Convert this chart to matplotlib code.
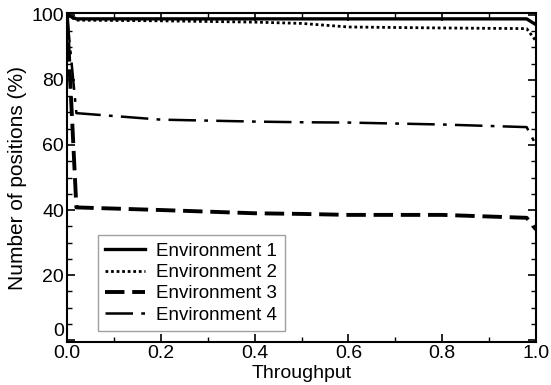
import matplotlib.pyplot as plt
from matplotlib.ticker import MultipleLocator

plt.rcParams['font.family'] = ['Liberation Sans', 'DejaVu Sans']

# throughput samples and percentage of positions per environment
throughput = [0.0, 0.02, 0.2, 0.4, 0.5, 0.6, 0.8, 0.98, 1.0]
env1 = [100.0, 98.8, 98.8, 98.8, 98.8, 98.8, 98.8, 98.8, 97.0]
env2 = [100.0, 98.4, 98.2, 97.8, 97.4, 96.3, 96.0, 95.8, 92.0]
env3 = [100.0, 40.8, 40.0, 39.0, 38.8, 38.5, 38.5, 37.6, 34.0]
env4 = [100.0, 69.8, 67.8, 67.2, 67.0, 66.9, 66.3, 65.5, 60.0]

fig = plt.figure(figsize=(5.51, 3.85), dpi=100)
ax = fig.add_axes([0.1216, 0.1117, 0.8512, 0.8545])

ax.plot(throughput, env1, color='black', lw=2.4, ls='-', label='Environment 1')
ax.plot(throughput, env2, color='black', lw=2.0, ls=(0, (1, 1)), label='Environment 2')
ax.plot(throughput, env3, color='black', lw=2.8, ls=(0, (5, 2)), label='Environment 3')
ax.plot(throughput, env4, color='black', lw=1.8, ls=(0, (11, 3.3, 1.5, 3.3)), label='Environment 4')

ax.set_xlim(0, 1)
ax.set_ylim(-0.6, 100.6)
ax.xaxis.set_major_locator(MultipleLocator(0.2))
ax.xaxis.set_minor_locator(MultipleLocator(0.1))
ax.yaxis.set_major_locator(MultipleLocator(20))
ax.yaxis.set_minor_locator(MultipleLocator(5))
ax.tick_params(which='both', direction='in', top=True, right=True, labelsize=14, pad=2)
ax.tick_params(which='major', length=6, width=1.2)
ax.tick_params(which='minor', length=3.5, width=1.0)
for s in ax.spines.values():
    s.set_linewidth(1.5)

ax.set_xlabel('Throughput', fontsize=14, labelpad=2)
ax.set_ylabel('Number of positions (%)', fontsize=15, labelpad=3)

# lift the "0" label so it sits clear of "0.0"
fig.canvas.draw()
for lbl in ax.get_yticklabels():
    if lbl.get_text() == '0':
        lbl.set_verticalalignment('bottom')

leg = ax.legend(loc='lower left', bbox_to_anchor=(0.066, 0.033), fontsize=13.5,
                frameon=True, fancybox=False, edgecolor='#888888',
                handlelength=2.1, handletextpad=0.6, borderpad=0.4,
                labelspacing=0.22, borderaxespad=0)
leg.get_frame().set_linewidth(1.0)

fig.savefig('out.png', dpi=100)
